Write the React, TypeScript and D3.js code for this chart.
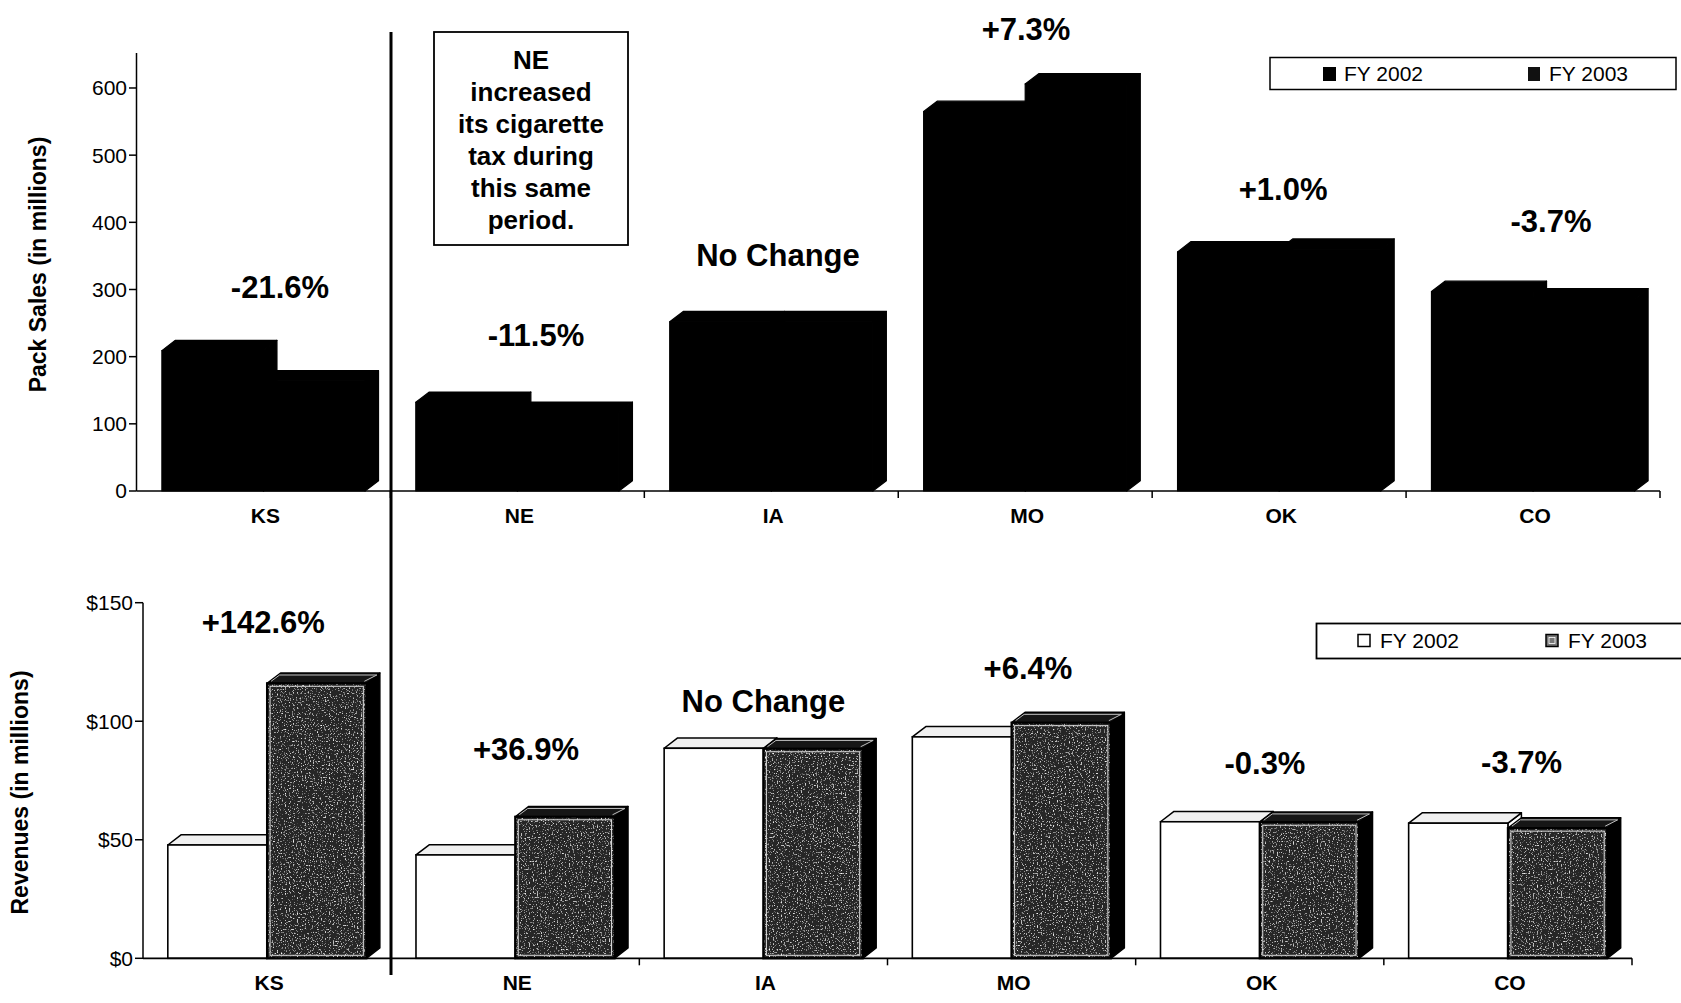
import React from 'react';
import * as d3 from 'd3';

// ---------- data ----------
const states = ['KS', 'NE', 'IA', 'MO', 'OK', 'CO'];
const series = ['FY 2002', 'FY 2003'];
const packSales2002 = [209, 132, 252, 565, 356, 297];
const packSales2003 = [164, 117, 252, 606, 360, 286];
const revenue2002 = [47.8, 43.6, 88.6, 93.4, 57.6, 57.0];
const revenue2003 = [116, 59.7, 88.4, 99.4, 57.4, 54.9];
const packChange = ['-21.6%', '-11.5%', 'No Change', '+7.3%', '+1.0%', '-3.7%'];
const revenueChange = ['+142.6%', '+36.9%', 'No Change', '+6.4%', '-0.3%', '-3.7%'];
const packTicks = [0, 100, 200, 300, 400, 500, 600];
const revenueTicks = [0, 50, 100, 150];
const noteLines = ['NE', 'increased', 'its cigarette', 'tax during', 'this same', 'period.'];

// ---------- annotation layout (label anchor: px offset from band centre, value-unit height) ----------
const packLabelDx = [16.5, 18.6, 6.7, 0.8, 4, 18];
const packLabelAt = [287.3, 216, 335, 671.4, 433.2, 385.6];
const revLabelDx = [-3.8, 10.7, 0, 16.4, 5.2, 13.7];
const revLabelAt = [137.1, 83.6, 103.9, 117.8, 77.7, 78];

const FONT = '"Liberation Sans", Arial, Helvetica, sans-serif';
const W = 1681;
const H = 1003;

// scales
const packX = d3.scaleBand<string>().domain(states).range([136.5, 1660]);
const packY = d3.scaleLinear().domain([0, 650]).range([491, 54.4]);
const revX = d3.scaleBand<string>().domain(states).range([143, 1632]);
const revY = d3.scaleLinear().domain([0, 150]).range([958.3, 602.7]);
const innerScale = (bw: number) =>
  d3.scaleBand<string>().domain(series).range([bw * 0.1, bw * 0.9]);

const DX = 13.5;
const DY = 10.3;

function faces(x: number, w: number, yt: number, yb: number) {
  const top = `M${x},${yt}L${x + DX},${yt - DY}L${x + w + DX},${yt - DY}L${x + w},${yt}Z`;
  const side = `M${x + w},${yt}L${x + w + DX},${yt - DY}L${x + w + DX},${yb - DY}L${x + w},${yb}Z`;
  return { top, side };
}

function PackChart() {
  const bw = packX.bandwidth();
  const inner = innerScale(bw);
  const base = packY(0);
  const vals = [packSales2002, packSales2003];
  return (
    <g>
      {states.map((s, i) => (
        <g key={s}>
          {series.map((ser, k) => {
            const x = (packX(s) as number) + (inner(ser) as number);
            const w = inner.bandwidth();
            const yt = packY(vals[k][i]);
            const f = faces(x, w, yt, base);
            return (
              <g key={ser} stroke="#000" strokeWidth={1.2} strokeLinejoin="round">
                <rect x={x} y={yt} width={w} height={base - yt} fill="#000" />
                <path d={f.top} fill="#000" />
                <path d={f.side} fill="#000" />
              </g>
            );
          })}
        </g>
      ))}
      {/* axes */}
      <line x1={136.5} x2={136.5} y1={53} y2={base} stroke="#000" strokeWidth={1.5} />
      <line x1={136.5} x2={1660} y1={base} y2={base} stroke="#000" strokeWidth={1.5} />
      {packTicks.map((t) => (
        <g key={t}>
          <line x1={129} x2={136.5} y1={packY(t)} y2={packY(t)} stroke="#000" strokeWidth={1.5} />
          <text x={127} y={packY(t)} dy="0.35em" textAnchor="end" fontSize={21} fontFamily={FONT}>
            {t}
          </text>
        </g>
      ))}
      {states.map((s, i) => {
        const xb = i === states.length - 1 ? 1660 : (packX(states[i + 1]) as number);
        return <line key={'t' + s} x1={xb} x2={xb} y1={base} y2={base + 7} stroke="#000" strokeWidth={1.5} />;
      })}
      {states.map((s) => (
        <text key={'c' + s} x={(packX(s) as number) + bw / 2 + 2} y={523} textAnchor="middle"
          fontSize={21} fontWeight="bold" fontFamily={FONT}>
          {s}
        </text>
      ))}
      {states.map((s, i) => (
        <text key={'p' + s} x={(packX(s) as number) + bw / 2 + packLabelDx[i]} y={packY(packLabelAt[i])}
          textAnchor="middle" fontSize={31} fontWeight="bold" fontFamily={FONT}>
          {packChange[i]}
        </text>
      ))}
      <text transform="translate(38,264.5) rotate(-90)" dy="0.35em" textAnchor="middle"
        fontSize={23} fontWeight="bold" fontFamily={FONT}>
        Pack Sales (in millions)
      </text>
      {/* legend */}
      <rect x={1270} y={57.5} width={406} height={32} fill="#fff" stroke="#000" strokeWidth={1.5} />
      <rect x={1323} y={67} width={13} height={14} fill="#000" />
      <text x={1344} y={74} dy="0.35em" fontSize={21} fontFamily={FONT}>{series[0]}</text>
      <rect x={1528} y={67} width={12} height={14} fill="#111" />
      <text x={1549} y={74} dy="0.35em" fontSize={21} fontFamily={FONT}>{series[1]}</text>
      {/* note box */}
      <rect x={434} y={32} width={194} height={213} fill="#fff" stroke="#000" strokeWidth={1.8} />
      {noteLines.map((l, i) => (
        <text key={l} x={531} y={69 + i * 32} textAnchor="middle" fontSize={26} fontWeight="bold" fontFamily={FONT}>
          {l}
        </text>
      ))}
    </g>
  );
}

function RevenueChart() {
  const bw = revX.bandwidth();
  const inner = innerScale(bw);
  const base = revY(0);
  return (
    <g>
      {states.map((s, i) => {
        const w = inner.bandwidth();
        const x2 = (revX(s) as number) + (inner(series[0]) as number);
        const x3 = (revX(s) as number) + (inner(series[1]) as number);
        const y2 = revY(revenue2002[i]);
        const y3 = revY(revenue2003[i]);
        const f2 = faces(x2, w, y2, base);
        const f3 = faces(x3, w, y3, base);
        const ins = 3;
        const innerTop = `M${x3 + ins + 1},${y3 - 2}L${x3 + DX - 1},${y3 - DY + 2}L${x3 + w + DX - ins},${y3 - DY + 2}L${x3 + w - 2},${y3 - 2}`;
        return (
          <g key={s}>
            {/* FY 2002 */}
            <path d={f2.side} fill="#fff" stroke="#000" strokeWidth={1.5} strokeLinejoin="round" />
            <path d={f2.top} fill="#f0f0f0" stroke="#000" strokeWidth={1.5} strokeLinejoin="round" />
            <rect x={x2} y={y2} width={w} height={base - y2} fill="#fff" stroke="#000" strokeWidth={1.6} />
            {/* FY 2003 */}
            <path d={f3.side} fill="#000" stroke="#000" strokeWidth={1.5} strokeLinejoin="round" />
            <path d={f3.top} fill="#161616" stroke="#000" strokeWidth={1.5} strokeLinejoin="round" />
            <path d={innerTop} fill="none" stroke="#bdbdbd" strokeWidth={1} />
            <rect x={x3} y={y3} width={w} height={base - y3} fill="#262626" filter="url(#speckle)" />
            <rect x={x3 + ins} y={y3 + ins} width={w - 2 * ins} height={base - y3 - 2 * ins}
              fill="none" stroke="#d8d8d8" strokeWidth={1} />
            <rect x={x3} y={y3} width={w} height={base - y3} fill="none" stroke="#000" strokeWidth={2.2} />
          </g>
        );
      })}
      {/* axes */}
      <line x1={143} x2={143} y1={revY(150)} y2={base} stroke="#000" strokeWidth={1.5} />
      <line x1={143} x2={1632} y1={base} y2={base} stroke="#000" strokeWidth={1.8} />
      {revenueTicks.map((t) => (
        <g key={t}>
          <line x1={135} x2={143} y1={revY(t)} y2={revY(t)} stroke="#000" strokeWidth={1.5} />
          <text x={133} y={revY(t)} dy="0.35em" textAnchor="end" fontSize={21} fontFamily={FONT}>
            {'$' + t}
          </text>
        </g>
      ))}
      {states.map((s, i) => {
        const xb = i === states.length - 1 ? 1632 : (revX(states[i + 1]) as number);
        return <line key={'t' + s} x1={xb} x2={xb} y1={base} y2={base + 7} stroke="#000" strokeWidth={1.5} />;
      })}
      {states.map((s) => (
        <text key={'c' + s} x={(revX(s) as number) + bw / 2 + 2} y={990} textAnchor="middle"
          fontSize={21} fontWeight="bold" fontFamily={FONT}>
          {s}
        </text>
      ))}
      {states.map((s, i) => (
        <text key={'p' + s} x={(revX(s) as number) + bw / 2 + revLabelDx[i]} y={revY(revLabelAt[i])}
          textAnchor="middle" fontSize={31} fontWeight="bold" fontFamily={FONT}>
          {revenueChange[i]}
        </text>
      ))}
      <text transform="translate(20,792.5) rotate(-90)" dy="0.35em" textAnchor="middle"
        fontSize={23} fontWeight="bold" fontFamily={FONT}>
        Revenues (in millions)
      </text>
      {/* legend */}
      <rect x={1316.5} y={623.5} width={380} height={35} fill="#fff" stroke="#000" strokeWidth={1.8} />
      <rect x={1358} y={634.5} width={12} height={12} fill="#fff" stroke="#000" strokeWidth={1.5} />
      <text x={1380} y={641} dy="0.35em" fontSize={21} fontFamily={FONT}>{series[0]}</text>
      <rect x={1546} y={634.5} width={12} height={12} fill="#777" stroke="#000" strokeWidth={1.5} />
      <rect x={1549} y={637.5} width={6} height={6} fill="none" stroke="#fff" strokeWidth={0.8} />
      <text x={1568} y={641} dy="0.35em" fontSize={21} fontFamily={FONT}>{series[1]}</text>
    </g>
  );
}

export default function App() {
  return (
    <svg width={W} height={H} viewBox={`0 0 ${W} ${H}`}
      style={{ position: 'absolute', left: 0, top: 0, background: '#fff' }}>
      <defs>
        <filter id="speckle" x="0" y="0" width="100%" height="100%">
          <feTurbulence type="fractalNoise" baseFrequency="0.75" numOctaves={1} seed={4} result="noise" />
          <feColorMatrix in="noise" type="matrix"
            values="0 0 0 0 1  0 0 0 0 1  0 0 0 0 1  4.2 0 0 0 -2.45" result="spots" />
          <feComposite in="spots" in2="SourceGraphic" operator="in" result="clipped" />
          <feMerge>
            <feMergeNode in="SourceGraphic" />
            <feMergeNode in="clipped" />
          </feMerge>
        </filter>
      </defs>
      <rect x={0} y={0} width={W} height={H} fill="#fff" />
      <PackChart />
      <RevenueChart />
      <line x1={391} x2={391} y1={32} y2={975} stroke="#000" strokeWidth={3} />
    </svg>
  );
}
